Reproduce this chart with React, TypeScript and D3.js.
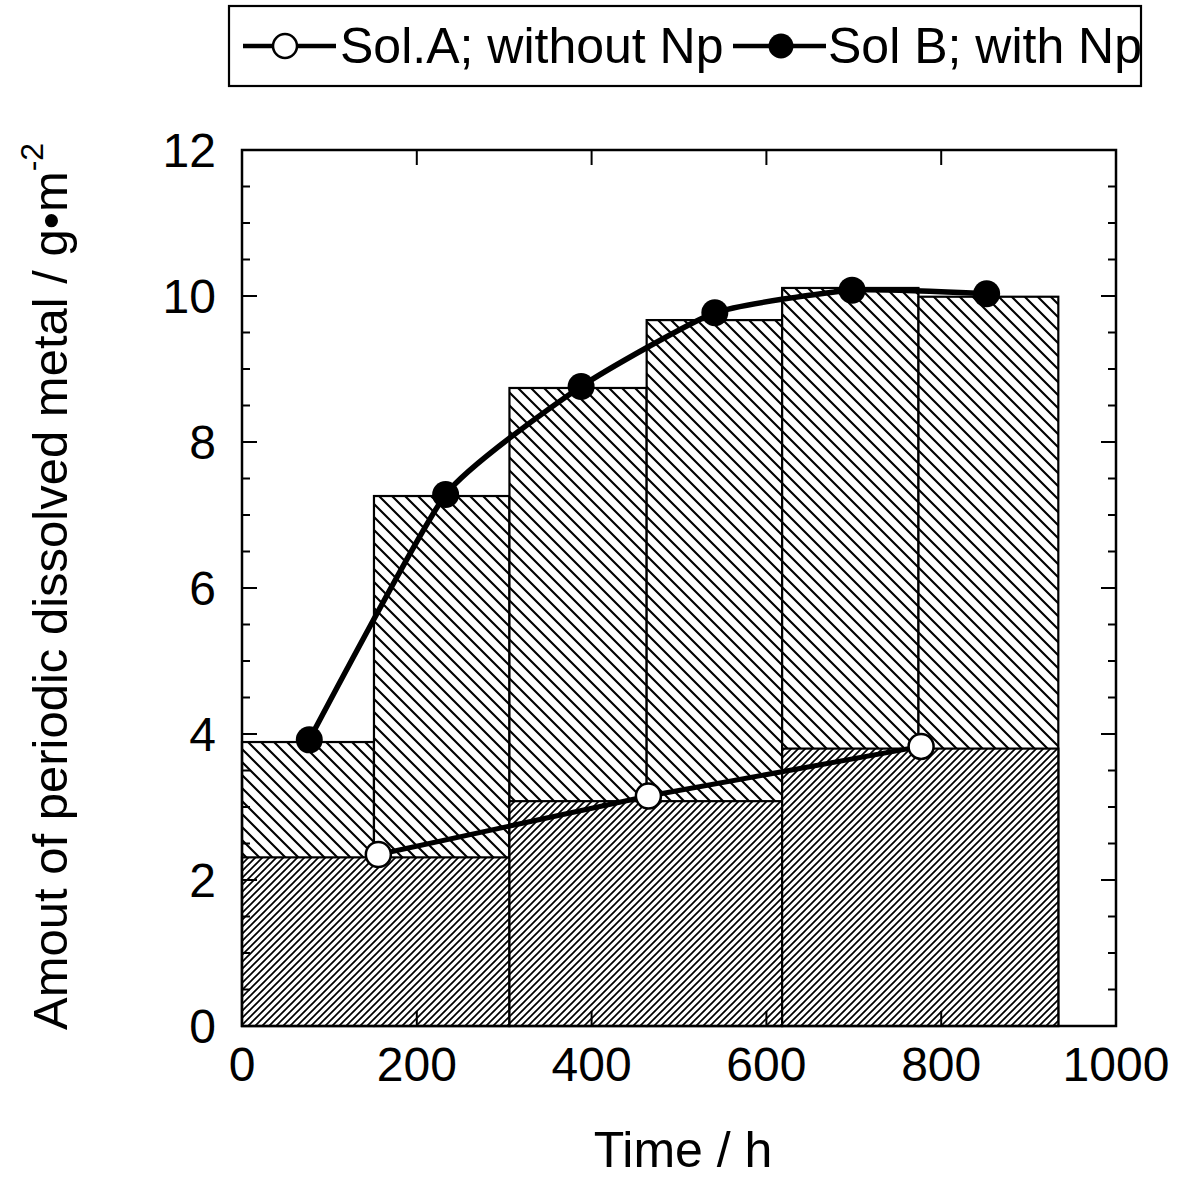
import React from "react";
import * as d3 from "d3";

// ---- data ----
const solBEdges = [0, 151, 306, 463, 618, 774, 934];
const solBHeights = [3.89, 7.26, 8.74, 9.67, 10.11, 9.99];
const solAEdges = [0, 306, 618, 934];
const solAHeights = [2.31, 3.08, 3.8];
const solBTime = [77, 233, 388, 541, 698, 852];
const solBValue = [3.92, 7.28, 8.76, 9.77, 10.08, 10.03];
const solATime = [156, 465, 777];
const solAValue = [2.35, 3.15, 3.83];
const xTicks = [0, 200, 400, 600, 800, 1000];
const yTicks = [0, 2, 4, 6, 8, 10, 12];
const legendLabels = ["Sol.A; without Np", "Sol B; with Np"];
const xLabel = "Time / h";
const yLabel = "Amout of periodic dissolved metal / g\u2022m";

const W = 1181, H = 1178;
const L = 242, R = 1116, T = 150, B = 1026;
const FONT = "'Liberation Sans', Arial, Helvetica, sans-serif";

export default function App() {
  const x = d3.scaleLinear().domain([0, 1000]).range([L, R]);
  const y = d3.scaleLinear().domain([0, 12]).range([B, T]);
  const minorY = d3.range(0, 12.01, 0.5);

  const lineB = d3
    .line<number>()
    .x((_, i) => x(solBTime[i]))
    .y((d) => y(d))
    .curve(d3.curveCardinal.tension(0.5));
  const lineA = d3
    .line<number>()
    .x((_, i) => x(solATime[i]))
    .y((d) => y(d));

  const barsB = solBHeights.map((h, i) => ({ x0: solBEdges[i], x1: solBEdges[i + 1], h }));
  const barsA = solAHeights.map((h, i) => ({ x0: solAEdges[i], x1: solAEdges[i + 1], h }));

  return (
    <svg width={W} height={H} style={{ position: "absolute", left: 0, top: 0, background: "#fff" }} fontFamily={FONT}>
      <defs>
        <pattern id="hatchB" patternUnits="userSpaceOnUse" width={13} height={13}>
          <rect width={13} height={13} fill="#fff" />
          <path d="M0,0L13,13M-2,11L2,15M11,-2L15,2" stroke="#000" strokeWidth={2.1} />
        </pattern>
        <pattern id="hatchA" patternUnits="userSpaceOnUse" width={7} height={7}>
          <rect width={7} height={7} fill="#fff" />
          <path d="M0,7L7,0M-1,1L1,-1M6,8L8,6" stroke="#000" strokeWidth={1.7} />
        </pattern>
      </defs>

      {/* Sol B bars */}
      {barsB.map((b, i) => (
        <rect key={"b" + i} x={x(b.x0)} y={y(b.h)} width={x(b.x1) - x(b.x0)} height={y(0) - y(b.h)}
          fill="url(#hatchB)" stroke="#000" strokeWidth={2.2} />
      ))}
      {/* Sol A bars */}
      {barsA.map((b, i) => (
        <rect key={"a" + i} x={x(b.x0)} y={y(b.h)} width={x(b.x1) - x(b.x0)} height={y(0) - y(b.h)}
          fill="url(#hatchA)" stroke="#000" strokeWidth={2.2} />
      ))}

      {/* frame */}
      <rect x={L} y={T} width={R - L} height={B - T} fill="none" stroke="#000" strokeWidth={2.5} />

      {/* y ticks */}
      {minorY.map((v) => {
        const major = Math.abs(v % 2) < 1e-6;
        const len = major ? 15 : 8;
        return (
          <g key={"yt" + v} stroke="#000" strokeWidth={2}>
            <line x1={L} x2={L + len} y1={y(v)} y2={y(v)} />
            <line x1={R} x2={R - len} y1={y(v)} y2={y(v)} />
          </g>
        );
      })}
      {/* x ticks */}
      {xTicks.map((v) => (
        <g key={"xt" + v} stroke="#000" strokeWidth={2}>
          <line x1={x(v)} x2={x(v)} y1={B} y2={B - 15} />
          <line x1={x(v)} x2={x(v)} y1={T} y2={T + 15} />
        </g>
      ))}

      {/* tick labels */}
      {yTicks.map((v) => (
        <text key={"yl" + v} x={216} y={y(v)} dy="0.36em" textAnchor="end" fontSize={48}>{v}</text>
      ))}
      {xTicks.map((v) => (
        <text key={"xl" + v} x={x(v)} y={1081} textAnchor="middle" fontSize={48}>{v}</text>
      ))}

      {/* axis labels */}
      <text x={683} y={1167} textAnchor="middle" fontSize={50}>{xLabel}</text>
      <text transform="translate(67,1030) rotate(-90)" fontSize={49}>
        {yLabel}
        <tspan fontSize={32} dy={-24}>-2</tspan>
      </text>

      {/* lines */}
      <path d={lineB(solBValue) || ""} fill="none" stroke="#000" strokeWidth={5.5} />
      <path d={lineA(solAValue) || ""} fill="none" stroke="#000" strokeWidth={5} />
      {solBValue.map((v, i) => (
        <circle key={"pb" + i} cx={x(solBTime[i])} cy={y(v)} r={13.5} fill="#000" />
      ))}
      {solAValue.map((v, i) => (
        <circle key={"pa" + i} cx={x(solATime[i])} cy={y(v)} r={12.5} fill="#fff" stroke="#000" strokeWidth={2.5} />
      ))}

      {/* legend */}
      <rect x={229} y={6} width={912} height={80} fill="#fff" stroke="#000" strokeWidth={2.2} />
      <line x1={243} x2={336} y1={46} y2={46} stroke="#000" strokeWidth={4.5} />
      <circle cx={285} cy={46} r={12} fill="#fff" stroke="#000" strokeWidth={2.5} />
      <text x={340} y={63} fontSize={50}>{legendLabels[0]}</text>
      <line x1={733} x2={826} y1={46} y2={46} stroke="#000" strokeWidth={4.5} />
      <circle cx={781} cy={46} r={12.5} fill="#000" />
      <text x={828} y={63} fontSize={50}>{legendLabels[1]}</text>
    </svg>
  );
}
